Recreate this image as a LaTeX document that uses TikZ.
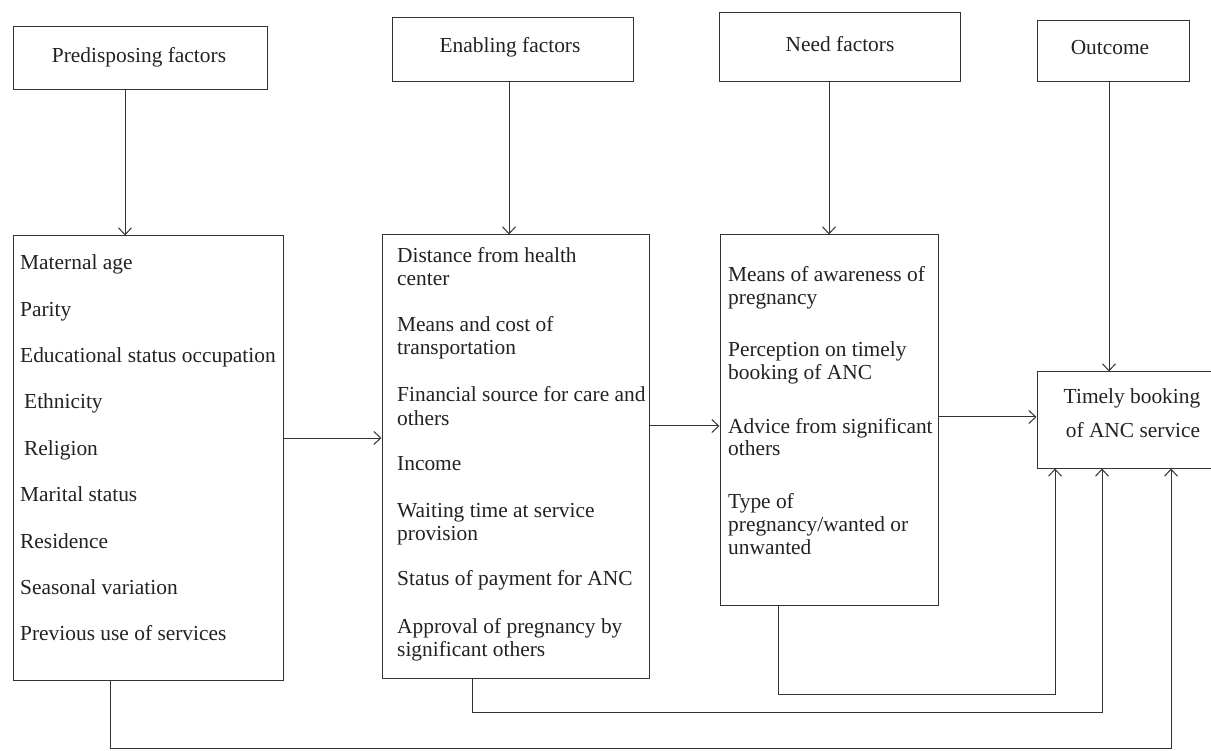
\documentclass[tikz,border=0pt]{standalone}
\usepackage{fontspec}
\setmainfont{Liberation Serif}
\usetikzlibrary{arrows.meta}
\definecolor{ln}{HTML}{333333}
\definecolor{tx}{HTML}{222222}
\begin{document}
\begin{tikzpicture}[x=1pt,y=-1pt,
  box/.style={draw=ln, line width=1pt, inner sep=0pt},
  txt/.style={anchor=base west, inner sep=0pt, text=tx, font=\fontsize{21.4}{23}\selectfont},
  ctxt/.style={anchor=base, inner sep=0pt, text=tx, font=\fontsize{21.4}{23}\selectfont},
  conn/.style={draw=ln, line width=1pt},
  arr/.style={conn, -{Straight Barb[length=7pt,width=13pt,line width=1pt]}}]
\useasboundingbox (0,0) rectangle (1211,751);
\fill[white] (0,0) rectangle (1211,751);

% header boxes
\node[box, minimum width=254pt, minimum height=63pt] (ph) at (140,58.5) {};
\node[box, minimum width=241pt, minimum height=64pt] (eh) at (512.5,50) {};
\node[box, minimum width=241pt, minimum height=69pt] (nh) at (839.5,47.5) {};
\node[box, minimum width=152pt, minimum height=61pt] (oh) at (1113,51.5) {};
\node[ctxt] (pht) at (139,63) {Predisposing factors};
\node[ctxt] (eht) at (510,53) {Enabling factors};
\node[ctxt] (nht) at (840,52) {Need factors};
\node[ctxt] (oht) at (1110,55) {Outcome};

% main boxes
\node[box, minimum width=270pt, minimum height=444pt] (pb) at (148,458) {};
\node[box, minimum width=267pt, minimum height=443pt] (eb) at (515.5,456.5) {};
\node[box, minimum width=218pt, minimum height=370pt] (nb) at (829,420) {};
\node[box, minimum width=180pt, minimum height=96pt] (tb) at (1127,420) {};

% predisposing list
\node[txt] (p1) at (20,270) {Maternal age};
\node[txt] (p2) at (20,317) {Parity};
\node[txt] (p3) at (20,363) {Educational status occupation};
\node[txt] (p4) at (24,409) {Ethnicity};
\node[txt] (p5) at (24,455) {Religion};
\node[txt] (p6) at (20,501) {Marital status};
\node[txt] (p7) at (20,548) {Residence};
\node[txt] (p8) at (20,594) {Seasonal variation};
\node[txt] (p9) at (20,640) {Previous use of services};

% enabling list
\node[txt] (e1) at (397,263) {Distance from health};
\node[txt] (e2) at (397,286) {center};
\node[txt] (e3) at (397,332) {Means and cost of};
\node[txt] (e4) at (397,355) {transportation};
\node[txt] (e5) at (397,402) {Financial source for care and};
\node[txt] (e6) at (397,425) {others};
\node[txt] (e7) at (397,470) {Income};
\node[txt] (e8) at (397,517) {Waiting time at service};
\node[txt] (e9) at (397,540) {provision};
\node[txt] (e10) at (397,585) {Status of payment for ANC};
\node[txt] (e11) at (397,633) {Approval of pregnancy by};
\node[txt] (e12) at (397,656) {significant others};

% need list
\node[txt] (n1) at (728,282) {Means of awareness of};
\node[txt] (n2) at (728,305) {pregnancy};
\node[txt] (n3) at (728,357) {Perception on timely};
\node[txt] (n4) at (728,380) {booking of ANC};
\node[txt] (n5) at (728,433) {Advice from significant};
\node[txt] (n6) at (728,456) {others};
\node[txt] (n7) at (728,508) {Type of};
\node[txt] (n8) at (728,531) {pregnancy/wanted or};
\node[txt] (n9) at (728,554) {unwanted};

% outcome text
\node[ctxt] (t1) at (1132,403) {Timely booking};
\node[ctxt] (t2) at (1133,438) {of ANC service};

% vertical arrows from headers
\draw[arr] ([xshift=-15pt]ph.south) -- ([xshift=-15pt]ph.south |- pb.north);
\draw[arr] ([xshift=-3.5pt]eh.south) -- ([xshift=-3.5pt]eh.south |- eb.north);
\draw[arr] ([xshift=-10.5pt]nh.south) -- ([xshift=-10.5pt]nh.south |- nb.north);
\draw[arr] ([xshift=-4pt]oh.south) -- ([xshift=-4pt]oh.south |- tb.north);

% horizontal arrows
\draw[arr] (pb.east |- 0,438) -- (eb.west |- 0,438);
\draw[arr] (eb.east |- 0,426) -- (nb.west |- 0,426);
\draw[arr] (nb.east |- 0,417) -- (tb.west |- 0,417);

% bottom feedback connectors
\draw[arr] ([xshift=-51pt]nb.south) -- ++(0,89) -| ([xshift=-72pt]tb.south);
\draw[arr] ([xshift=-43.5pt]eb.south) -- ++(0,34) -| ([xshift=-25pt]tb.south);
\draw[arr] ([xshift=-38pt]pb.south) -- ++(0,68) -| ([xshift=44pt]tb.south);
\end{tikzpicture}
\end{document}
